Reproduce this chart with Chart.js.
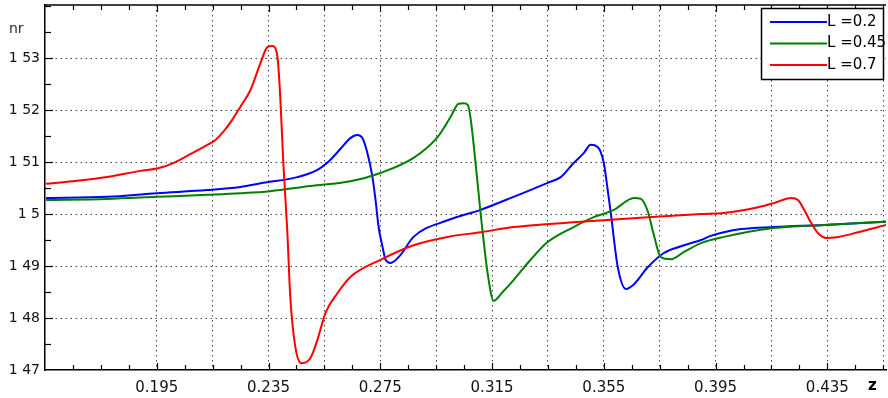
<!DOCTYPE html>
<html>
<head>
<meta charset="utf-8">
<script src="https://cdn.jsdelivr.net/npm/chart.js@4/dist/chart.umd.min.js"></script>
<style>
  html, body { margin: 0; padding: 0; background: #fff; }
  #c { display: block; }
</style>
</head>
<body>
<canvas id="c" width="888" height="398"></canvas>
<script>
// Refractive index nr along z for three values of L
const blueZ  = [0.1554,0.1772,0.1951,0.2131,0.2249,0.2331,0.2453,0.2525,0.2571,0.2607,0.2643,0.2668,0.2686,0.2704,0.2722,0.2733,0.2744,0.2758,0.2769,0.2787,0.2822,0.2869,0.2991,0.3109,0.3227,0.3349,0.3396,0.3442,0.3478,0.3503,0.3528,0.3550,0.3564,0.3575,0.3600,0.3629,0.3658,0.3708,0.3765,0.3826,0.3898,0.3933,0.4041,0.4159,0.4339,0.4560];
const blueNr = [1.5031,1.5033,1.5040,1.5046,1.5052,1.5060,1.5071,1.5085,1.5104,1.5125,1.5146,1.5152,1.5146,1.5117,1.5071,1.5027,1.4975,1.4937,1.4912,1.4906,1.4921,1.4956,1.4988,1.5008,1.5033,1.5060,1.5071,1.5098,1.5117,1.5133,1.5129,1.5098,1.5046,1.5002,1.4898,1.4856,1.4865,1.4898,1.4925,1.4938,1.4950,1.4958,1.4971,1.4975,1.4979,1.4985];

const greenZ  = [0.1554,0.1772,0.1951,0.2131,0.2249,0.2356,0.2500,0.2643,0.2751,0.2869,0.2955,0.3002,0.3030,0.3048,0.3063,0.3073,0.3091,0.3109,0.3134,0.3156,0.3188,0.3227,0.3288,0.3349,0.3442,0.3514,0.3586,0.3658,0.3683,0.3708,0.3729,0.3754,0.3790,0.3837,0.3898,0.3980,0.4159,0.4339,0.4560];
const greenNr = [1.5027,1.5029,1.5033,1.5037,1.5040,1.5044,1.5054,1.5063,1.5079,1.5108,1.5148,1.5187,1.5212,1.5213,1.5210,1.5185,1.5098,1.5002,1.4887,1.4833,1.4850,1.4873,1.4912,1.4946,1.4975,1.4994,1.5008,1.5031,1.5029,1.5004,1.4960,1.4917,1.4913,1.4927,1.4944,1.4956,1.4973,1.4979,1.4985];

const redZ  = [0.1554,0.1650,0.1772,0.1891,0.1955,0.2009,0.2070,0.2131,0.2159,0.2188,0.2220,0.2249,0.2285,0.2321,0.2346,0.2364,0.2382,0.2392,0.2403,0.2417,0.2428,0.2446,0.2468,0.2500,0.2525,0.2554,0.2597,0.2643,0.2751,0.2869,0.2991,0.3109,0.3227,0.3468,0.3708,0.3898,0.3980,0.4102,0.4159,0.4220,0.4245,0.4267,0.4292,0.4317,0.4346,0.4389,0.4460,0.4532,0.4560];
const redNr = [1.5058,1.5063,1.5071,1.5083,1.5088,1.5098,1.5115,1.5133,1.5142,1.5158,1.5181,1.5206,1.5238,1.5290,1.5321,1.5323,1.5302,1.5225,1.5098,1.4969,1.4840,1.4744,1.4713,1.4723,1.4758,1.4810,1.4848,1.4879,1.4912,1.4940,1.4956,1.4965,1.4975,1.4985,1.4994,1.5000,1.5002,1.5013,1.5021,1.5031,1.5027,1.5008,1.4983,1.4963,1.4954,1.4956,1.4965,1.4975,1.4979];

const seriesLabels = ['L =0.2', 'L =0.45', 'L =0.7'];

// Axis ticks and labels
const xTicks = [0.165,0.175,0.185,0.195,0.205,0.215,0.225,0.235,0.245,0.255,0.265,0.275,0.285,0.295,0.305,0.315,0.325,0.335,0.345,0.355,0.365,0.375,0.385,0.395,0.405,0.415,0.425,0.435,0.445,0.455];
const xGridValues = [0.195,0.215,0.235,0.255,0.275,0.295,0.315,0.335,0.355,0.375,0.395,0.415,0.435,0.455];
const xLabelValues = [0.195,0.235,0.275,0.315,0.355,0.395,0.435];
const xLabelTexts  = ['0.195','0.235','0.275','0.315','0.355','0.395','0.435'];

const yTicks = [1.47,1.475,1.48,1.485,1.49,1.495,1.50,1.505,1.51,1.515,1.52,1.525,1.53,1.535,1.54];
const yLabelValues = [1.47,1.48,1.49,1.50,1.51,1.52,1.53];
const yLabelTexts  = ['1 47','1 48','1 49','1 5','1 51','1 52','1 53'];

const near = (a, b) => Math.abs(a - b) < 1e-6;
const lookup = (v, vals, texts) => { const i = vals.findIndex(u => near(u, v)); return i >= 0 ? texts[i] : ''; };
const zip = (xs, ys) => xs.slice(0, Math.min(xs.length, ys.length)).map((x, i) => ({ x, y: ys[i] }));

const FONT = 'DejaVu Sans';
const HIDDEN = 'rgba(0,0,0,0)';

// Inward tick marks, top frame, axis names and a boxed legend
const framePlugin = {
  id: 'frame',
  afterDraw(chart) {
    const { ctx, chartArea: a, scales: { x, y } } = chart;
    ctx.save();
    ctx.strokeStyle = '#000';
    ctx.lineWidth = 1.5;
    ctx.beginPath();
    ctx.moveTo(a.left, a.top); ctx.lineTo(a.right, a.top);
    ctx.stroke();

    ctx.lineWidth = 1.2;
    xTicks.forEach(v => {
      const px = Math.round(x.getPixelForValue(v)) + 0.5;
      const len = xLabelValues.some(u => near(u, v)) ? 7 : 5;
      ctx.beginPath();
      ctx.moveTo(px, a.bottom); ctx.lineTo(px, a.bottom - len);
      ctx.moveTo(px, a.top); ctx.lineTo(px, a.top + len);
      ctx.stroke();
    });
    yTicks.forEach(v => {
      if (near(v, 1.47)) return;
      const py = Math.round(y.getPixelForValue(v)) + 0.5;
      const len = yLabelValues.some(u => near(u, v)) ? 8 : 6;
      ctx.beginPath();
      ctx.moveTo(a.left, py); ctx.lineTo(a.left + len, py);
      ctx.stroke();
    });

    // axis names
    ctx.fillStyle = '#2a2a40';
    ctx.font = '14px ' + FONT;
    ctx.textAlign = 'left';
    ctx.textBaseline = 'middle';
    ctx.fillText('nr', 9, 29);
    ctx.fillStyle = '#000';
    ctx.font = 'bold 15px ' + FONT;
    ctx.fillText('z', 868, 386);

    // legend box
    const bx = 761, by = 8, bw = 122, bh = 71;
    ctx.fillStyle = '#fff';
    ctx.fillRect(bx, by, bw, bh);
    ctx.strokeStyle = '#000';
    ctx.lineWidth = 1.5;
    ctx.strokeRect(bx + 0.5, by + 0.5, bw, bh);
    ctx.font = '15px ' + FONT;
    ctx.textBaseline = 'middle';
    chart.data.datasets.forEach((ds, i) => {
      const ly = by + 14 + i * 21.5;
      ctx.strokeStyle = ds.borderColor;
      ctx.lineWidth = 2;
      ctx.beginPath();
      ctx.moveTo(bx + 9, ly); ctx.lineTo(bx + 66, ly);
      ctx.stroke();
      ctx.fillStyle = '#000';
      ctx.fillText(ds.label, bx + 66, ly);
    });
    ctx.restore();
  }
};

new Chart(document.getElementById('c'), {
  type: 'scatter',
  data: {
    datasets: [
      { label: seriesLabels[0], data: zip(blueZ, blueNr),  borderColor: '#0000ff', order: 2 },
      { label: seriesLabels[1], data: zip(greenZ, greenNr), borderColor: '#008000', order: 1 },
      { label: seriesLabels[2], data: zip(redZ, redNr),    borderColor: '#ff0000', order: 0 }
    ].map(d => Object.assign(d, {
      showLine: true, borderWidth: 2, pointRadius: 0, fill: false,
      cubicInterpolationMode: 'monotone'
    }))
  },
  options: {
    responsive: false,
    animation: false,
    events: [],
    layout: { padding: { left: 0, right: 2, top: 5, bottom: 0 } },
    plugins: { legend: { display: false }, tooltip: { enabled: false } },
    scales: {
      x: {
        type: 'linear', min: 0.155, max: 0.456,
        afterBuildTicks: s => { s.ticks = xTicks.map(v => ({ value: v })); },
        afterFit: s => { s.height = 28; s.paddingLeft = 0; s.paddingRight = 0; },
        grid: {
          drawTicks: false,
          color: c => (c.tick && xGridValues.some(u => near(u, c.tick.value))) ? '#444' : HIDDEN,
          lineWidth: 1
        },
        border: { color: '#000', width: 1.5, dash: [1.5, 3.5] },
        ticks: {
          autoSkip: false, maxRotation: 0, padding: 9,
          color: '#111', font: { family: FONT, size: 15 },
          callback: v => lookup(v, xLabelValues, xLabelTexts)
        }
      },
      y: {
        type: 'linear', min: 1.47, max: 1.5402,
        afterBuildTicks: s => { s.ticks = yTicks.map(v => ({ value: v })); },
        afterFit: s => { s.width = 45; s.paddingTop = 0; s.paddingBottom = 0; },
        grid: {
          drawTicks: false,
          color: c => (c.tick && yLabelValues.some(u => near(u, c.tick.value)) && !near(c.tick.value, 1.47)) ? '#444' : HIDDEN,
          lineWidth: 1
        },
        border: { color: '#000', width: 1.5, dash: [1.5, 3.5] },
        ticks: {
          autoSkip: false, padding: 5,
          color: '#111', font: { family: FONT, size: 14 },
          callback: v => lookup(v, yLabelValues, yLabelTexts)
        }
      }
    }
  },
  plugins: [framePlugin]
});
</script>
</body>
</html>
